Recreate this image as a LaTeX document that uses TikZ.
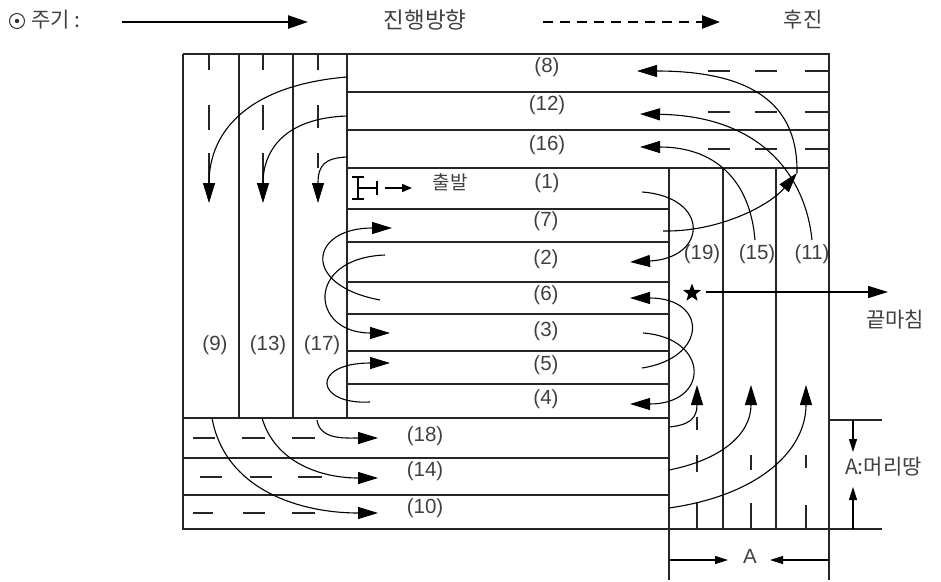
\documentclass[tikz,border=0pt]{standalone}
\usepackage{fontspec}
\setmainfont{Liberation Sans}
\newfontfamily\krfont{Noto Sans CJK KR}
\usetikzlibrary{arrows.meta,shapes.geometric}
\begin{document}
\begin{tikzpicture}[x=1pt,y=-1pt,
  frm/.style={line width=1.3pt,draw=black!85},
  lanedash/.style={line width=1.6pt,draw=black!85},
  trk/.style={line width=1.1pt,-{Triangle[length=20pt,width=12pt]}},
  crv/.style={line width=1.1pt},
  dimarr/.style={line width=1.1pt,-{Triangle[length=13pt,width=8pt]}},
  lbl/.style={font=\fontsize{20.5}{24}\selectfont,text=black!75,inner sep=0pt},
  kor/.style={font=\krfont\fontsize{21}{25}\selectfont,text=black!75,inner sep=0pt},
]
\useasboundingbox (0,0) rectangle (941,581);
% ---------- legend
\node[circle,draw=black!80,line width=1pt,minimum size=15pt,inner sep=0pt] (lgc) at (17,21) {};
\fill[black!80] (lgc.center) circle (2.2pt);
\node[kor,anchor=west] (lgt) at (31,20) {주기 :};
\coordinate (las) at (122,22); \coordinate (lae) at (308,22);
\draw[line width=2.4pt,-{Triangle[length=20pt,width=13pt]}] (las) -- (lae);
\node[kor,font=\krfont\fontsize{22.5}{26}\selectfont] (lgf) at (425,20) {진행방향};
\coordinate (lds) at (543,22); \coordinate (lde) at (720,22);
\draw[line width=2.4pt,dash pattern=on 10pt off 7pt,-{Triangle[length=18pt,width=13pt]}] (lds) -- (lde);
\node[kor] (lgb) at (803,20) {후진};
% ---------- frame
\draw[frm] (183,54) -- (829,54) -- (829,580);
\draw[frm] (183,54) -- (183,529) -- (882,529);
\draw[frm] (829,420) -- (882,420);
\draw[frm] (669,168) -- (669,580);
\foreach \x in {239,293,347} \draw[frm] (\x,54) -- (\x,418);
\foreach \y in {92,130,168} \draw[frm] (347,\y) -- (829,\y);
\foreach \y in {209,242,282,314,351,384} \draw[frm] (347,\y) -- (669,\y);
\foreach \y in {418,458,495} \draw[frm] (183,\y) -- (669,\y);
\foreach \x in {723,776} \draw[frm] (\x,168) -- (\x,529);
% ---------- lane dashes
\foreach \x in {209,263} {\draw[lanedash] (\x,55) -- (\x,70); \draw[lanedash] (\x,105) -- (\x,130); \draw[lanedash] (\x,153) -- (\x,183);}
\draw[lanedash] (318,55) -- (318,70); \draw[lanedash] (318,105) -- (318,128); \draw[lanedash] (318,153) -- (318,168);
\foreach \y in {71,112,149} {\draw[lanedash] (708,\y) -- (730,\y); \draw[lanedash] (755,\y) -- (777,\y); \draw[lanedash] (805,\y) -- (828,\y);}
\draw[lanedash] (193,438) -- (215,438); \draw[lanedash] (242,438) -- (265,438); \draw[lanedash] (292,438) -- (315,438);
\draw[lanedash] (200,477) -- (222,477); \draw[lanedash] (250,477) -- (272,477); \draw[lanedash] (298,477) -- (322,477);
\draw[lanedash] (193,513) -- (213,513); \draw[lanedash] (243,513) -- (265,513); \draw[lanedash] (292,513) -- (315,513);
\draw[lanedash] (697,417) -- (697,430); \draw[lanedash] (697,455) -- (697,472); \draw[lanedash] (697,503) -- (697,528);
\draw[lanedash] (751,455) -- (751,470); \draw[lanedash] (751,503) -- (751,528);
\draw[lanedash] (806,455) -- (806,468); \draw[lanedash] (806,505) -- (806,528);
% ---------- labels
\node[lbl] (n8) at (547,67) {(8)};
\node[lbl] (n12) at (547,105) {(12)};
\node[lbl] (n16) at (547,145) {(16)};
\node[lbl] (n1) at (547,183) {(1)};
\node[lbl] (n7) at (546,221) {(7)};
\node[lbl] (n2) at (546,259) {(2)};
\node[lbl] (n6) at (546,295) {(6)};
\node[lbl] (n3) at (546,331) {(3)};
\node[lbl] (n5) at (546,365) {(5)};
\node[lbl] (n4) at (546,399) {(4)};
\node[lbl] (n9) at (215,345) {(9)};
\node[lbl] (n13) at (268,345) {(13)};
\node[lbl] (n17) at (322,345) {(17)};
\node[lbl] (n19) at (702,254) {(19)};
\node[lbl] (n15) at (757,254) {(15)};
\node[lbl] (n11) at (812,254) {(11)};
\node[lbl] (n18) at (425,436) {(18)};
\node[lbl] (n14) at (425,471) {(14)};
\node[lbl] (n10) at (425,508) {(10)};
% ---------- start symbol
\draw[line width=2.8pt] (358,177) -- (358,199);
\draw[line width=1.8pt] (352,177) -- (364,177) (352,199) -- (364,199);
\draw[line width=1.5pt] (358,188) -- (377,188);
\draw[line width=1.8pt] (377,181) -- (377,195);
\coordinate (sa) at (385,188); \coordinate (sb) at (412,188);
\draw[line width=1.4pt,-{Triangle[length=10pt,width=8pt]}] (sa) -- (sb);
\node[kor,font=\krfont\fontsize{19}{23}\selectfont] (start) at (450,182) {출발};
% ---------- curves: top-right block to left columns
\coordinate (a1s) at (347,77); \coordinate (a1e) at (209,203);
\coordinate (a2s) at (347,116); \coordinate (a2e) at (263,203);
\coordinate (a3s) at (347,157); \coordinate (a3e) at (318,203);
\draw[trk] (a1s) .. controls (250,85) and (209,130) .. (a1e);
\draw[trk] (a2s) .. controls (285,118) and (263,150) .. (a2e);
\draw[trk] (a3s) .. controls (325,158) and (318,165) .. (a3e);
% ---------- right column to top block
\coordinate (c7s) at (663,231); \coordinate (c7e) at (797,173);
\coordinate (c8e) at (637,71);
\coordinate (c12s) at (812,240); \coordinate (c12e) at (640,114);
\coordinate (c16s) at (755,240); \coordinate (c16e) at (640,147);
\draw[trk] (c7s) .. controls (720,232) and (770,205) .. (c7e);
\draw[trk] (c7e) .. controls (798,110) and (760,71) .. (c8e);
\draw[trk] (c12s) .. controls (806,180) and (765,116) .. (c12e);
\draw[trk] (c16s) .. controls (750,180) and (715,147) .. (c16e);
% ---------- turns in the middle rows
\coordinate (t1s) at (642,192); \coordinate (t1e) at (630,262);
\draw[trk] (t1s) .. controls (710,197) and (708,258) .. (t1e);
\coordinate (t6s) at (380,300); \coordinate (t6e) at (392,228);
\draw[trk] (t6s) .. controls (300,285) and (310,228) .. (t6e);
\coordinate (t2s) at (385,255); \coordinate (t2e) at (390,333);
\draw[trk] (t2s) .. controls (305,258) and (310,333) .. (t2e);
\coordinate (t4s) at (370,402); \coordinate (t4e) at (390,363);
\draw[trk] (t4s) .. controls (315,405) and (310,363) .. (t4e);
\coordinate (t5s) at (642,368); \coordinate (t5e) at (630,298);
\draw[trk] (t5s) .. controls (708,358) and (708,298) .. (t5e);
\coordinate (t3s) at (643,333); \coordinate (t3e) at (630,404);
\draw[trk] (t3s) .. controls (710,338) and (710,404) .. (t3e);
% ---------- left columns to bottom rows
\coordinate (b10s) at (212,418); \coordinate (b10e) at (378,513);
\coordinate (b14s) at (262,418); \coordinate (b14e) at (378,478);
\coordinate (b18s) at (317,420); \coordinate (b18e) at (378,438);
\draw[trk] (b10s) .. controls (225,490) and (300,513) .. (b10e);
\draw[trk] (b14s) .. controls (275,462) and (320,478) .. (b14e);
\draw[trk] (b18s) .. controls (320,440) and (345,438) .. (b18e);
% ---------- bottom rows to right column
\coordinate (r1s) at (669,427); \coordinate (r1e) at (697,385);
\coordinate (r2s) at (669,470); \coordinate (r2e) at (751,385);
\coordinate (r3s) at (669,508); \coordinate (r3e) at (806,385);
\draw[trk] (r1s) .. controls (690,425) and (697,418) .. (r1e);
\draw[trk] (r2s) .. controls (720,460) and (751,435) .. (r2e);
\draw[trk] (r3s) .. controls (760,495) and (806,450) .. (r3e);
% ---------- finish
\node[star,star points=5,star point ratio=2.4,minimum size=19pt,inner sep=0pt,fill=black] (fin) at (692,293) {};
\coordinate (fs) at (706,292); \coordinate (fe) at (888,292);
\draw[line width=1.5pt,-{Triangle[length=20pt,width=12pt]}] (fs) -- (fe);
\node[kor] (finl) at (895,320) {끝마침};
% ---------- dimensions
\coordinate (dl) at (669,560); \coordinate (dlt) at (728,560);
\coordinate (dr) at (829,560); \coordinate (drt) at (770,560);
\draw[dimarr] (dl) -- (dlt);
\draw[dimarr] (dr) -- (drt);
\node[lbl] (dA) at (750,556) {A};
\coordinate (vt) at (853,420); \coordinate (vtt) at (853,452);
\coordinate (vb) at (853,529); \coordinate (vbt) at (853,487);
\draw[dimarr] (vt) -- (vtt);
\draw[dimarr] (vb) -- (vbt);
\node[kor,anchor=west] (hd) at (845,467) {A:머리땅};
\end{tikzpicture}
\end{document}
